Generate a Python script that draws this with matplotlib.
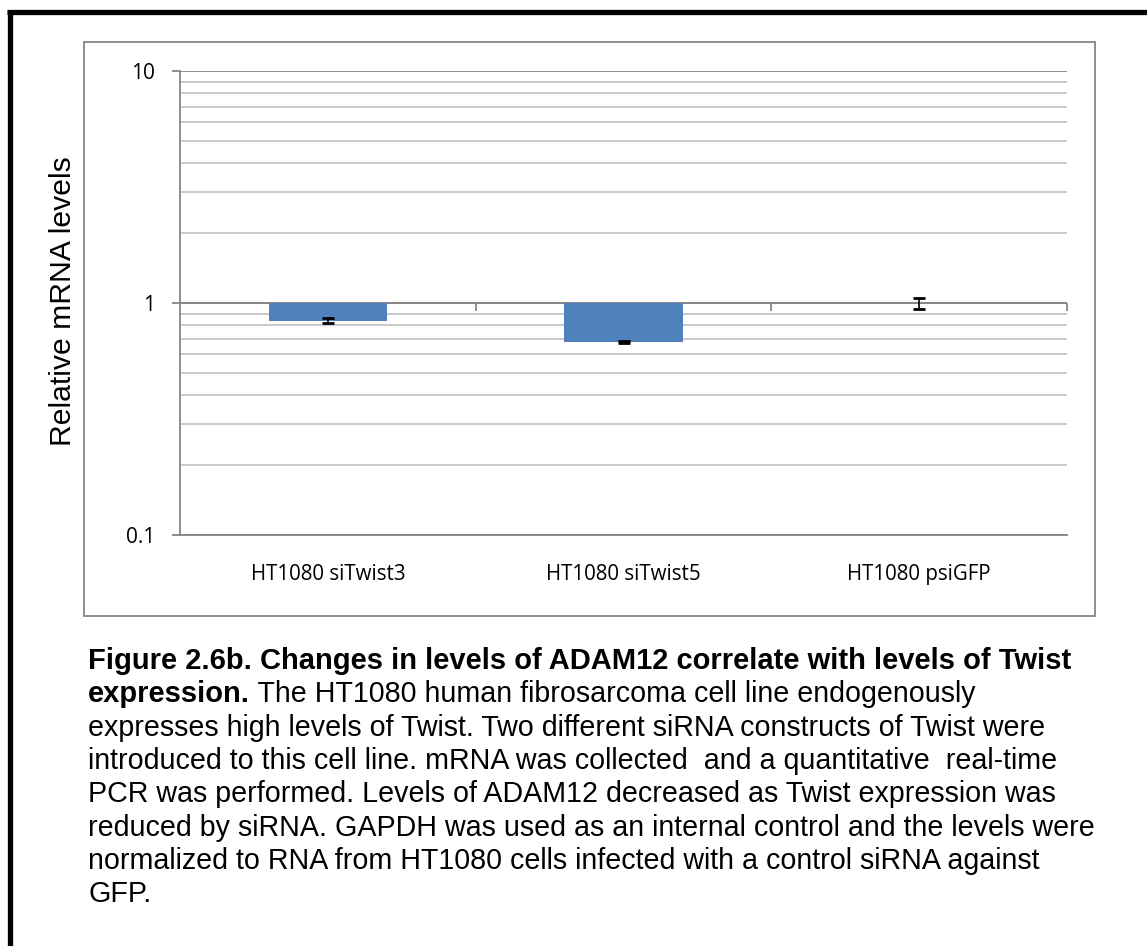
import matplotlib
matplotlib.use('Agg')
import matplotlib.pyplot as plt
from matplotlib.lines import Line2D
from matplotlib.patches import Rectangle
from matplotlib.ticker import LogLocator, NullFormatter, FixedLocator, FixedFormatter

W, H = 1147, 946

categories = ['HT1080 siTwist3', 'HT1080 siTwist5', 'HT1080 psiGFP']
values = [0.84, 0.68, 1.0]
errors = [0.02, 0.005, 0.055]

y_ticks = [0.1, 1, 10]
y_tick_labels = ['0.1', '1', '10']

caption_bold = 'Figure 2.6b. Changes in levels of ADAM12 correlate with levels of Twist'
caption_bold2 = 'expression.'
caption_lines = [
    ' The HT1080 human fibrosarcoma cell line endogenously',
    'expresses high levels of Twist. Two different siRNA constructs of Twist were',
    'introduced to this cell line. mRNA was collected  and a quantitative  real-time',
    'PCR was performed. Levels of ADAM12 decreased as Twist expression was',
    'reduced by siRNA. GAPDH was used as an internal control and the levels were',
    'normalized to RNA from HT1080 cells infected with a control siRNA against',
    'GFP.',
]

axis_gray = '#868686'
grid_gray = '#c6c6c6'
bar_blue = '#4f81bd'
label_font = ['Open Sans', 'DejaVu Sans']
cap_font = ['Liberation Sans', 'DejaVu Sans']
bold_size = 21
cap_size = 20.6


def fx(x):
    return x / W


def fy(y):
    return 1 - y / H


fig = plt.figure(figsize=(W / 100, H / 100), dpi=100)

# outer frame (runs off the right and bottom edges)
fig.add_artist(Line2D([fx(9.5), fx(9.5)], [fy(10.5), fy(H + 20)], color='black',
                      lw=3.8, solid_capstyle='butt'))
fig.add_artist(Line2D([fx(7.5), fx(W + 20)], [fy(12.5), fy(12.5)], color='black',
                      lw=3.8, solid_capstyle='butt'))

# chart area box
fig.add_artist(Rectangle((fx(84), fy(616)), fx(1095 - 84), (616 - 42) / H,
                         fill=False, edgecolor=axis_gray, lw=1.3))

ax = fig.add_axes([fx(180), fy(535), fx(1067 - 180), (535 - 71) / H])
ax.set_yscale('log')
ax.set_ylim(0.1, 10)
ax.set_xlim(-0.5, 2.5)

x = list(range(len(categories)))
heights = [v - 1 for v in values]
ax.bar(x, heights, bottom=1, width=0.4, color=bar_blue, zorder=3)
ax.errorbar(x, values, yerr=errors, fmt='none', ecolor='black',
            elinewidth=1.2, capsize=4, capthick=2, zorder=4)

# gridlines
ax.yaxis.set_minor_locator(LogLocator(base=10, subs=range(2, 10)))
ax.yaxis.set_minor_formatter(NullFormatter())
ax.grid(axis='y', which='minor', color=grid_gray, lw=1.3, zorder=0)
ax.grid(axis='y', which='major', color=axis_gray, lw=1.3, zorder=0)
ax.yaxis.set_major_locator(FixedLocator(y_ticks))
ax.yaxis.set_major_formatter(FixedFormatter(y_tick_labels))
ax.tick_params(axis='y', which='major', length=6, width=1.3, color=axis_gray,
               pad=12, labelsize=15)
ax.tick_params(axis='y', which='minor', length=0)
for lbl in ax.get_yticklabels():
    lbl.set_fontfamily(label_font)

ax.set_xticks([])
for s in ['top', 'right']:
    ax.spines[s].set_visible(False)
for s in ['left', 'bottom']:
    ax.spines[s].set_color(axis_gray)
    ax.spines[s].set_linewidth(1.3)

# category axis crosses at 1, with ticks between the groups
ax.axhline(1, color=axis_gray, lw=1.3, zorder=2)
ax.plot([0.5, 1.5, 2.5], [1, 1, 1], ls='none', marker=3, ms=6, mew=1.3,
        color=axis_gray, zorder=2, clip_on=False)

for xi, name in zip(x, categories):
    ax.text(xi, -0.0862, name, transform=ax.get_xaxis_transform(), ha='center',
            va='center', fontsize=14.8, family=label_font)

ax.set_ylabel('Relative mRNA levels', fontsize=21.7, family=cap_font)
ax.yaxis.set_label_coords(-0.132, 0.503)
ax.yaxis.label.set_va('center')

# caption
base0, step = 669, 33.3
fig.text(fx(88), fy(base0), caption_bold, fontsize=bold_size, fontweight='bold',
         family=cap_font, va='baseline')
t = fig.text(fx(88), fy(base0 + step), caption_bold2, fontsize=bold_size,
             fontweight='bold', family=cap_font, va='baseline')
renderer = fig.canvas.get_renderer()
bb = t.get_window_extent(renderer)
fig.text(bb.x1 / W, fy(base0 + step), caption_lines[0], fontsize=cap_size,
         family=cap_font, va='baseline')
for i, line in enumerate(caption_lines[1:]):
    fig.text(fx(88), fy(base0 + step * (i + 2)), line, fontsize=cap_size,
             family=cap_font, va='baseline')

fig.savefig('out.png', dpi=100)
